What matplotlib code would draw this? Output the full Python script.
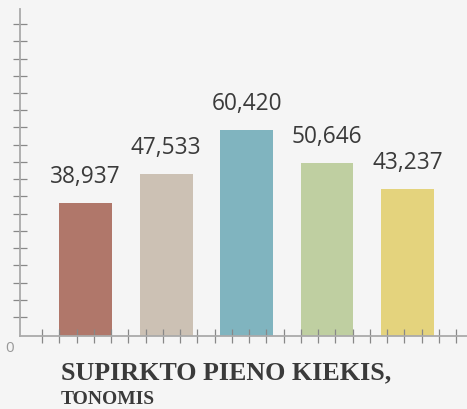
import numpy as np
import matplotlib
matplotlib.use("Agg")
import matplotlib.pyplot as plt

values = [38937, 47533, 60420, 50646, 43237]
labels = ["38,937", "47,533", "60,420", "50,646", "43,237"]
colors = ["#b0776a", "#ccc1b4", "#80b4bf", "#bfcfa1", "#e4d37d"]
title_main = "SUPIRKTO PIENO KIEKIS,"
title_sub = "TONOMIS"

W, H = 467, 409
fig = plt.figure(figsize=(W / 100, H / 100), dpi=100)
fig.patch.set_facecolor("#f5f5f5")

ax = fig.add_axes([20 / W, (H - 336) / H, 447 / W, 327 / H])
ax.set_facecolor("#f5f5f5")

x = np.arange(len(values))
ax.bar(x, values, width=0.658, color=colors, zorder=1)

ax.set_xlim(-0.814, 4.739)
ax.set_ylim(0, 95900)

for xi, v, lab in zip(x, values, labels):
    ax.annotate(lab, (xi, v), xytext=(0, 14.4), textcoords="offset points",
                ha="center", va="baseline", fontsize=16.3, color="#3a3a3a",
                family="Open Sans")

for s in ["top", "right"]:
    ax.spines[s].set_visible(False)
for s in ["left", "bottom"]:
    ax.spines[s].set_color("#aaaaaa")
    ax.spines[s].set_linewidth(1.3)
    ax.spines[s].set_zorder(3)

ax.set_xticks(np.arange(-0.540, 4.72, 0.2143))
ax.set_yticks(np.arange(5573, 95000, 5054))
ax.tick_params(axis="both", direction="inout", length=10, width=0.9,
               color="#888888", labelbottom=False, labelleft=False)
for t in ax.xaxis.get_major_ticks() + ax.yaxis.get_major_ticks():
    t.tick1line.set_zorder(4)

fig.text(10 / W, 1 - 348 / H, "0", fontsize=11, color="#999999",
         ha="center", va="center", family="Open Sans")

fig.text(61 / W, 1 - 379 / H, title_main, fontsize=18.7, fontweight="bold",
         color="#3a3a3a", family="Liberation Serif", ha="left", va="baseline")
fig.text(61 / W, 1 - 404 / H, title_sub, fontsize=14, fontweight="bold",
         color="#3a3a3a", family="Liberation Serif", ha="left", va="baseline")

fig.savefig("out.png", dpi=100, facecolor=fig.get_facecolor())
